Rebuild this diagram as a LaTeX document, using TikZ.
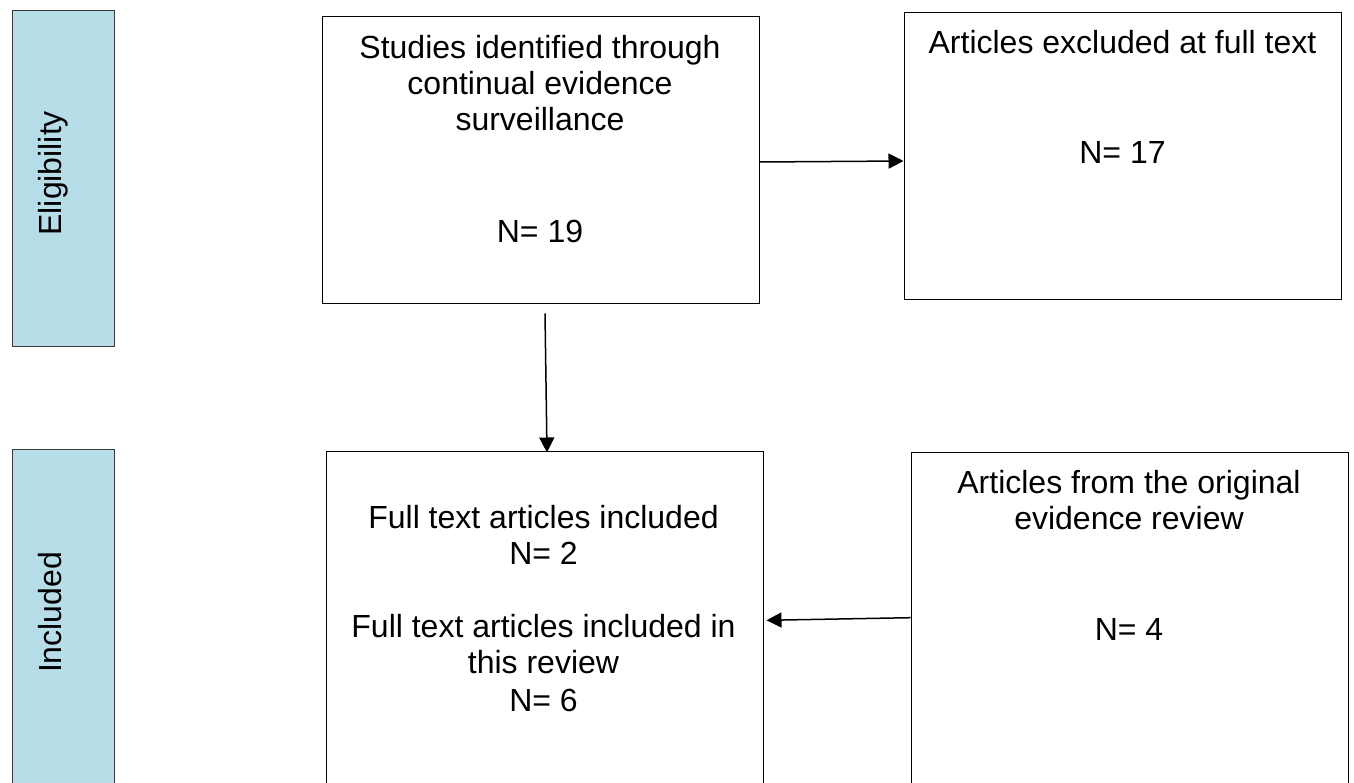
\documentclass[tikz,border=0pt]{standalone}
\usepackage{fontspec}
\setmainfont{Liberation Sans}
\usetikzlibrary{arrows.meta}
\definecolor{sidefill}{HTML}{B7DDE8}
\definecolor{sideline}{HTML}{3A3A3A}
\tikzset{
  box/.style={draw=black, line width=1pt, inner sep=0pt, minimum width=437pt},
  side/.style={draw=sideline, fill=sidefill, line width=1pt, inner sep=0pt, minimum width=102pt},
  txt/.style={font=\fontsize{32}{36}\selectfont, anchor=base, inner sep=0pt},
  sidetxt/.style={font=\fontsize{32}{36}\selectfont, anchor=base, inner sep=0pt, rotate=90},
  arr/.style={line width=1.5pt, -{Triangle[length=15pt,width=15pt]}}
}
\begin{document}
\begin{tikzpicture}[x=1pt,y=-1pt]
\clip (0,0) rectangle (1354,783);
\fill[white] (0,0) rectangle (1354,783);
% side bars
\node[side, minimum height=336pt] (s1) at (63,179) {};
\node[side, minimum height=351pt] (s2) at (63,624.5) {};
\node[sidetxt] (s1t) at (61.7,173.3) {Eligibility};
\node[sidetxt] (s2t) at (61.2,612.5) {Included};
% boxes
\node[box, minimum height=287pt] (b1) at (540.5,160.5) {};
\node[box, minimum height=287pt] (b2) at (1122.5,156.5) {};
\node[box, minimum height=349pt] (b3) at (544.5,625.5) {};
\node[box, minimum height=348pt] (b4) at (1129.5,626) {};
% texts box 1
\node[txt] (t1a) at (540,58.3) {Studies identified through};
\node[txt] (t1b) at (540,94.5) {continual evidence};
\node[txt] (t1c) at (540,130.3) {surveillance};
\node[txt] (t1d) at (540,242.3) {N= 19};
% box 2
\node[txt] (t2a) at (1122.5,53.3) {Articles excluded at full text};
\node[txt] (t2b) at (1122.5,164) {N= 17};
% box 3
\node[txt] (t3a) at (543.5,528.3) {Full text articles included};
\node[txt] (t3b) at (543.5,564.3) {N= 2};
\node[txt] (t3c) at (543.5,637.7) {Full text articles included in};
\node[txt] (t3d) at (543.5,673.3) {this review};
\node[txt] (t3e) at (543.5,711.7) {N= 6};
% box 4
\node[txt] (t4a) at (1129,493.3) {Articles from the original};
\node[txt] (t4b) at (1129,529.3) {evidence review};
\node[txt] (t4c) at (1129,640) {N= 4};
% arrows
\draw[arr] ([yshift=-1.5pt]b1.east) -- ([yshift=-4.5pt]b2.west);
\draw[arr] ([xshift=4.5pt,yshift=-9pt]b1.south) -- ([xshift=2.5pt,yshift=-2pt]b3.north);
\draw[arr] ([yshift=8.3pt]b4.west) -- ([xshift=3pt,yshift=5.2pt]b3.east);
\end{tikzpicture}
\end{document}
